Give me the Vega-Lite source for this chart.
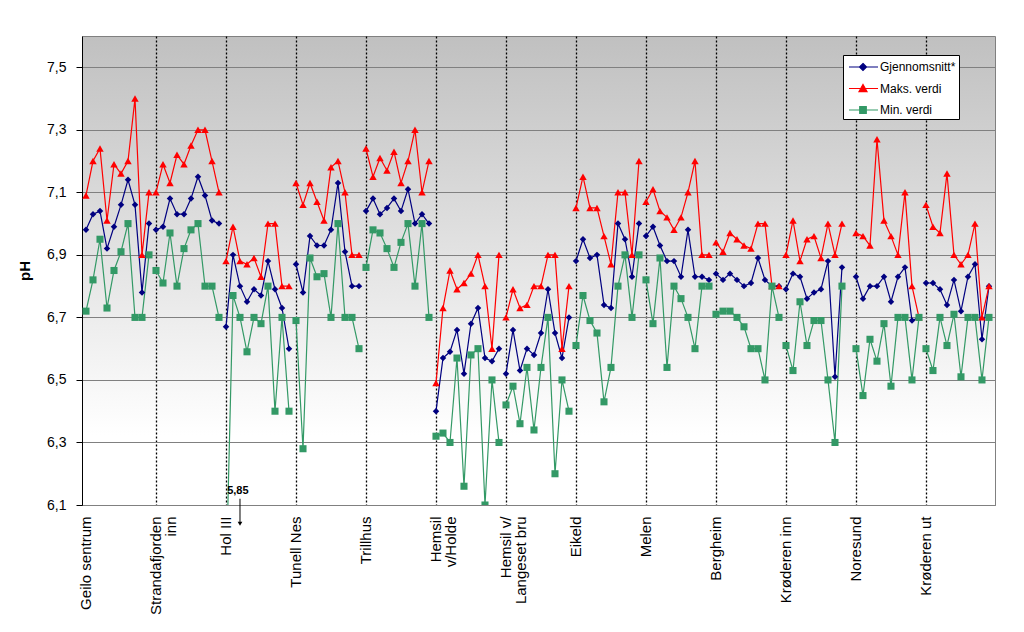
{
 "$schema": "https://vega.github.io/schema/vega-lite/v6.json",
 "width": 913,
 "height": 469,
 "autosize": "none",
 "padding": {"left": 82, "top": 36, "right": 29, "bottom": 127},
 "background": "white",
 "config": {
  "font": "Liberation Sans",
  "view": {
   "fill": {"gradient": "linear", "x1": 0, "y1": 0, "x2": 0, "y2": 1,
    "stops": [{"offset": 0, "color": "#c0c0c0"}, {"offset": 0.85, "color": "#ffffff"}, {"offset": 1, "color": "#ffffff"}]},
   "stroke": "#808080"
  }
 },
 "datasets": {
  "maalinger": [
   {"nr":0,"st":"Geilo sentrum","gj":6.98,"maks":7.09,"min":6.72},
   {"nr":1,"st":"Geilo sentrum","gj":7.03,"maks":7.20,"min":6.82},
   {"nr":2,"st":"Geilo sentrum","gj":7.04,"maks":7.24,"min":6.95},
   {"nr":3,"st":"Geilo sentrum","gj":6.92,"maks":7.01,"min":6.73},
   {"nr":4,"st":"Geilo sentrum","gj":6.99,"maks":7.19,"min":6.85},
   {"nr":5,"st":"Geilo sentrum","gj":7.06,"maks":7.16,"min":6.91},
   {"nr":6,"st":"Geilo sentrum","gj":7.14,"maks":7.20,"min":7.00},
   {"nr":7,"st":"Geilo sentrum","gj":7.06,"maks":7.40,"min":6.70},
   {"nr":8,"st":"Geilo sentrum","gj":6.78,"maks":6.90,"min":6.70},
   {"nr":9,"st":"Geilo sentrum","gj":7.00,"maks":7.10,"min":6.90},
   {"nr":10,"st":"Strandafjorden inn","gj":6.98,"maks":7.10,"min":6.85},
   {"nr":11,"st":"Strandafjorden inn","gj":6.99,"maks":7.19,"min":6.81},
   {"nr":12,"st":"Strandafjorden inn","gj":7.08,"maks":7.13,"min":6.97},
   {"nr":13,"st":"Strandafjorden inn","gj":7.03,"maks":7.22,"min":6.80},
   {"nr":14,"st":"Strandafjorden inn","gj":7.03,"maks":7.19,"min":6.92},
   {"nr":15,"st":"Strandafjorden inn","gj":7.08,"maks":7.25,"min":6.98},
   {"nr":16,"st":"Strandafjorden inn","gj":7.15,"maks":7.30,"min":7.00},
   {"nr":17,"st":"Strandafjorden inn","gj":7.09,"maks":7.30,"min":6.80},
   {"nr":18,"st":"Strandafjorden inn","gj":7.01,"maks":7.20,"min":6.80},
   {"nr":19,"st":"Strandafjorden inn","gj":7.00,"maks":7.10,"min":6.70},
   {"nr":20,"st":"Hol III","gj":6.67,"maks":6.88,"min":5.85},
   {"nr":21,"st":"Hol III","gj":6.90,"maks":6.99,"min":6.77},
   {"nr":22,"st":"Hol III","gj":6.80,"maks":6.88,"min":6.70},
   {"nr":23,"st":"Hol III","gj":6.75,"maks":6.87,"min":6.59},
   {"nr":24,"st":"Hol III","gj":6.79,"maks":6.89,"min":6.70},
   {"nr":25,"st":"Hol III","gj":6.77,"maks":6.83,"min":6.68},
   {"nr":26,"st":"Hol III","gj":6.88,"maks":7.00,"min":6.80},
   {"nr":27,"st":"Hol III","gj":6.79,"maks":7.00,"min":6.40},
   {"nr":28,"st":"Hol III","gj":6.73,"maks":6.80,"min":6.70},
   {"nr":29,"st":"Hol III","gj":6.60,"maks":6.80,"min":6.40},
   {"nr":30,"st":"Tunell Nes","gj":6.87,"maks":7.13,"min":6.69},
   {"nr":31,"st":"Tunell Nes","gj":6.78,"maks":7.06,"min":6.28},
   {"nr":32,"st":"Tunell Nes","gj":6.96,"maks":7.13,"min":6.89},
   {"nr":33,"st":"Tunell Nes","gj":6.93,"maks":7.07,"min":6.83},
   {"nr":34,"st":"Tunell Nes","gj":6.93,"maks":7.01,"min":6.84},
   {"nr":35,"st":"Tunell Nes","gj":6.98,"maks":7.18,"min":6.70},
   {"nr":36,"st":"Tunell Nes","gj":7.13,"maks":7.20,"min":7.00},
   {"nr":37,"st":"Tunell Nes","gj":6.91,"maks":7.10,"min":6.70},
   {"nr":38,"st":"Tunell Nes","gj":6.80,"maks":6.90,"min":6.70},
   {"nr":39,"st":"Tunell Nes","gj":6.80,"maks":6.90,"min":6.60},
   {"nr":40,"st":"Trillhus","gj":7.04,"maks":7.24,"min":6.86},
   {"nr":41,"st":"Trillhus","gj":7.08,"maks":7.15,"min":6.98},
   {"nr":42,"st":"Trillhus","gj":7.03,"maks":7.21,"min":6.97},
   {"nr":43,"st":"Trillhus","gj":7.05,"maks":7.17,"min":6.92},
   {"nr":44,"st":"Trillhus","gj":7.08,"maks":7.23,"min":6.86},
   {"nr":45,"st":"Trillhus","gj":7.04,"maks":7.13,"min":6.94},
   {"nr":46,"st":"Trillhus","gj":7.11,"maks":7.20,"min":7.00},
   {"nr":47,"st":"Trillhus","gj":7.00,"maks":7.30,"min":6.80},
   {"nr":48,"st":"Trillhus","gj":7.03,"maks":7.10,"min":7.00},
   {"nr":49,"st":"Trillhus","gj":7.00,"maks":7.20,"min":6.70},
   {"nr":50,"st":"Hemsil v/Holde","gj":6.40,"maks":6.49,"min":6.32},
   {"nr":51,"st":"Hemsil v/Holde","gj":6.57,"maks":6.73,"min":6.33},
   {"nr":52,"st":"Hemsil v/Holde","gj":6.59,"maks":6.85,"min":6.30},
   {"nr":53,"st":"Hemsil v/Holde","gj":6.66,"maks":6.79,"min":6.57},
   {"nr":54,"st":"Hemsil v/Holde","gj":6.52,"maks":6.81,"min":6.16},
   {"nr":55,"st":"Hemsil v/Holde","gj":6.68,"maks":6.84,"min":6.58},
   {"nr":56,"st":"Hemsil v/Holde","gj":6.73,"maks":6.90,"min":6.60},
   {"nr":57,"st":"Hemsil v/Holde","gj":6.57,"maks":6.80,"min":6.10},
   {"nr":58,"st":"Hemsil v/Holde","gj":6.56,"maks":6.60,"min":6.50},
   {"nr":59,"st":"Hemsil v/Holde","gj":6.60,"maks":6.90,"min":6.30},
   {"nr":60,"st":"Hemsil v/Langeset bru","gj":6.52,"maks":6.70,"min":6.42},
   {"nr":61,"st":"Hemsil v/Langeset bru","gj":6.66,"maks":6.79,"min":6.48},
   {"nr":62,"st":"Hemsil v/Langeset bru","gj":6.53,"maks":6.73,"min":6.36},
   {"nr":63,"st":"Hemsil v/Langeset bru","gj":6.60,"maks":6.74,"min":6.54},
   {"nr":64,"st":"Hemsil v/Langeset bru","gj":6.58,"maks":6.80,"min":6.34},
   {"nr":65,"st":"Hemsil v/Langeset bru","gj":6.65,"maks":6.80,"min":6.54},
   {"nr":66,"st":"Hemsil v/Langeset bru","gj":6.79,"maks":6.90,"min":6.70},
   {"nr":67,"st":"Hemsil v/Langeset bru","gj":6.65,"maks":6.90,"min":6.20},
   {"nr":68,"st":"Hemsil v/Langeset bru","gj":6.57,"maks":6.60,"min":6.50},
   {"nr":69,"st":"Hemsil v/Langeset bru","gj":6.70,"maks":6.80,"min":6.40},
   {"nr":70,"st":"Eikeld","gj":6.88,"maks":7.05,"min":6.61},
   {"nr":71,"st":"Eikeld","gj":6.95,"maks":7.15,"min":6.77},
   {"nr":72,"st":"Eikeld","gj":6.89,"maks":7.05,"min":6.69},
   {"nr":73,"st":"Eikeld","gj":6.90,"maks":7.05,"min":6.65},
   {"nr":74,"st":"Eikeld","gj":6.74,"maks":6.96,"min":6.43},
   {"nr":75,"st":"Eikeld","gj":6.73,"maks":6.87,"min":6.54},
   {"nr":76,"st":"Eikeld","gj":7.00,"maks":7.10,"min":6.80},
   {"nr":77,"st":"Eikeld","gj":6.95,"maks":7.10,"min":6.90},
   {"nr":78,"st":"Eikeld","gj":6.83,"maks":6.90,"min":6.70},
   {"nr":79,"st":"Eikeld","gj":7.00,"maks":7.20,"min":6.90},
   {"nr":80,"st":"Melen","gj":6.96,"maks":7.07,"min":6.82},
   {"nr":81,"st":"Melen","gj":6.99,"maks":7.11,"min":6.68},
   {"nr":82,"st":"Melen","gj":6.93,"maks":7.04,"min":6.89},
   {"nr":83,"st":"Melen","gj":6.88,"maks":7.02,"min":6.54},
   {"nr":84,"st":"Melen","gj":6.88,"maks":6.98,"min":6.80},
   {"nr":85,"st":"Melen","gj":6.83,"maks":7.02,"min":6.76},
   {"nr":86,"st":"Melen","gj":6.98,"maks":7.10,"min":6.70},
   {"nr":87,"st":"Melen","gj":6.83,"maks":7.20,"min":6.60},
   {"nr":88,"st":"Melen","gj":6.83,"maks":6.90,"min":6.80},
   {"nr":89,"st":"Melen","gj":6.82,"maks":6.90,"min":6.80},
   {"nr":90,"st":"Bergheim","gj":6.84,"maks":6.94,"min":6.71},
   {"nr":91,"st":"Bergheim","gj":6.82,"maks":6.91,"min":6.72},
   {"nr":92,"st":"Bergheim","gj":6.84,"maks":6.97,"min":6.72},
   {"nr":93,"st":"Bergheim","gj":6.82,"maks":6.95,"min":6.70},
   {"nr":94,"st":"Bergheim","gj":6.80,"maks":6.93,"min":6.67},
   {"nr":95,"st":"Bergheim","gj":6.81,"maks":6.92,"min":6.60},
   {"nr":96,"st":"Bergheim","gj":6.89,"maks":7.00,"min":6.60},
   {"nr":97,"st":"Bergheim","gj":6.82,"maks":7.00,"min":6.50},
   {"nr":98,"st":"Bergheim","gj":6.80,"maks":6.80,"min":6.80},
   {"nr":99,"st":"Bergheim","gj":6.80,"maks":6.80,"min":6.70},
   {"nr":100,"st":"Krøderen inn","gj":6.79,"maks":6.90,"min":6.61},
   {"nr":101,"st":"Krøderen inn","gj":6.84,"maks":7.01,"min":6.53},
   {"nr":102,"st":"Krøderen inn","gj":6.83,"maks":6.88,"min":6.75},
   {"nr":103,"st":"Krøderen inn","gj":6.76,"maks":6.95,"min":6.61},
   {"nr":104,"st":"Krøderen inn","gj":6.78,"maks":6.96,"min":6.69},
   {"nr":105,"st":"Krøderen inn","gj":6.79,"maks":6.89,"min":6.69},
   {"nr":106,"st":"Krøderen inn","gj":6.88,"maks":7.00,"min":6.50},
   {"nr":107,"st":"Krøderen inn","gj":6.51,"maks":6.90,"min":6.30},
   {"nr":108,"st":"Krøderen inn","gj":6.86,"maks":7.00,"min":6.80},
   {"nr":110,"st":"Noresund","gj":6.83,"maks":6.97,"min":6.60},
   {"nr":111,"st":"Noresund","gj":6.76,"maks":6.96,"min":6.45},
   {"nr":112,"st":"Noresund","gj":6.80,"maks":6.93,"min":6.63},
   {"nr":113,"st":"Noresund","gj":6.80,"maks":7.27,"min":6.56},
   {"nr":114,"st":"Noresund","gj":6.83,"maks":7.01,"min":6.68},
   {"nr":115,"st":"Noresund","gj":6.75,"maks":6.96,"min":6.48},
   {"nr":116,"st":"Noresund","gj":6.83,"maks":6.90,"min":6.70},
   {"nr":117,"st":"Noresund","gj":6.86,"maks":7.10,"min":6.70},
   {"nr":118,"st":"Noresund","gj":6.69,"maks":6.80,"min":6.50},
   {"nr":119,"st":"Noresund","gj":6.70,"maks":6.70,"min":6.70},
   {"nr":120,"st":"Krøderen ut","gj":6.81,"maks":7.06,"min":6.60},
   {"nr":121,"st":"Krøderen ut","gj":6.81,"maks":6.99,"min":6.53},
   {"nr":122,"st":"Krøderen ut","gj":6.79,"maks":6.97,"min":6.70},
   {"nr":123,"st":"Krøderen ut","gj":6.74,"maks":7.16,"min":6.61},
   {"nr":124,"st":"Krøderen ut","gj":6.82,"maks":6.90,"min":6.71},
   {"nr":125,"st":"Krøderen ut","gj":6.72,"maks":6.87,"min":6.51},
   {"nr":126,"st":"Krøderen ut","gj":6.83,"maks":6.90,"min":6.70},
   {"nr":127,"st":"Krøderen ut","gj":6.87,"maks":7.00,"min":6.70},
   {"nr":128,"st":"Krøderen ut","gj":6.63,"maks":6.70,"min":6.50},
   {"nr":129,"st":"Krøderen ut","gj":6.80,"maks":6.80,"min":6.70}
  ],
  "merknad": [
   {"nr": 21.7, "pH": 6.145, "tekst": "5,85", "pil_nr": 22, "pil_fra": 6.12, "pil_til": 6.04}
  ]
 },
 "layer": [
  {
   "data": {"name": "maalinger"},
   "transform": [{"fold": ["gj", "maks", "min"], "as": ["serie", "pH"]}],
   "layer": [
    {
     "mark": {"type": "line", "strokeWidth": 1.2, "clip": true},
     "encoding": {
      "x": {"field": "nr", "type": "quantitative",
       "scale": {"domain": [-0.571, 129.86], "nice": false, "zero": false},
       "axis": {
        "title": null,
        "values": [0, 10, 20, 30, 40, 50, 60, 70, 80, 90, 100, 110, 120],
        "labelExpr": "['Geilo sentrum',['Strandafjorden','inn'],'Hol III','Tunell Nes','Trillhus',['Hemsil','v/Holde'],['Hemsil v/','Langeset bru'],'Eikeld','Melen','Bergheim','Krøderen inn','Noresund','Krøderen ut'][round(datum.value/10)]",
        "labelAngle": -90,
        "labelAlign": "right",
        "labelBaseline": "middle",
        "labelFontSize": 15,
        "labelLineHeight": 15,
        "labelColor": "black",
        "labelPadding": 11,
        "labelOverlap": false,
        "labelFlush": false,
        "labelBound": false,
        "ticks": false,
        "domainColor": "#808080",
        "grid": true,
        "gridDash": [2, 2],
        "gridColor": "black",
        "gridWidth": 1.3,
        "gridOpacity": {"condition": {"test": "datum.value == 0", "value": 0}, "value": 1}
       }},
      "y": {"field": "pH", "type": "quantitative",
       "scale": {"domain": [6.1, 7.6], "nice": false, "zero": false},
       "axis": {
        "title": "pH",
        "titleFontSize": 15,
        "titleFontWeight": "bold",
        "titleColor": "black",
        "titlePadding": 14,
        "values": [6.1, 6.3, 6.5, 6.7, 6.9, 7.1, 7.3, 7.5],
        "labelExpr": "replace(format(datum.value, '.1f'), '.', ',')",
        "labelFontSize": 14,
        "labelColor": "black",
        "labelPadding": 10,
        "tickSize": 6,
        "tickColor": "black",
        "domainColor": "black",
        "grid": true,
        "gridColor": "#808080",
        "gridWidth": 1
       }},
      "color": {"field": "serie", "type": "nominal",
       "scale": {"domain": ["gj", "maks", "min"], "range": ["#000080", "#ff0000", "#339966"]},
       "legend": {
        "title": null,
        "orient": "none",
        "legendX": 761,
        "legendY": 19,
        "fillColor": "white",
        "strokeColor": "black",
        "padding": 3,
        "rowPadding": 6.5,
        "labelFont": "Liberation Sans",
        "labelFontSize": 12,
        "labelColor": "black",
        "labelOffset": 16,
        "symbolSize": 256,
        "symbolStrokeWidth": 1.2,
        "labelExpr": "datum.label == 'gj' ? 'Gjennomsnitt*' : datum.label == 'maks' ? 'Maks. verdi' : 'Min. verdi'",
        "encode": {
         "symbols": {
          "update": {
           "shape": {"signal": "datum.value == 'gj' ? 'M-0.75,0H2.875M1,-0.44L1.44,0L1,0.44L0.56,0Z' : datum.value == 'maks' ? 'M-0.75,0H2.875M1,-0.5L1.5,0.38L0.5,0.38Z' : 'M-0.75,0H2.875M0.59,-0.41H1.41V0.41H0.59Z'"},
           "fill": {"signal": "scale('color', datum.value)"},
           "stroke": {"signal": "scale('color', datum.value)"},
           "strokeWidth": {"value": 1.2},
           "opacity": {"value": 1}
          }
         }
        }
       }},
      "detail": {"field": "st", "type": "nominal"}
     }
    },
    {
     "transform": [{"filter": "datum.serie == 'gj'"}],
     "mark": {"type": "point", "filled": true, "opacity": 1, "clip": true, "shape": "diamond", "size": 42},
     "encoding": {
      "x": {"field": "nr", "type": "quantitative"},
      "y": {"field": "pH", "type": "quantitative"},
      "color": {"field": "serie", "type": "nominal", "legend": null}
     }
    },
    {
     "transform": [{"filter": "datum.serie == 'maks'"}],
     "mark": {"type": "point", "filled": true, "opacity": 1, "clip": true, "shape": "triangle-up", "size": 55},
     "encoding": {
      "x": {"field": "nr", "type": "quantitative"},
      "y": {"field": "pH", "type": "quantitative"},
      "color": {"field": "serie", "type": "nominal", "legend": null}
     }
    },
    {
     "transform": [{"filter": "datum.serie == 'min'"}],
     "mark": {"type": "point", "filled": true, "opacity": 1, "clip": true, "shape": "square", "size": 50},
     "encoding": {
      "x": {"field": "nr", "type": "quantitative"},
      "y": {"field": "pH", "type": "quantitative"},
      "color": {"field": "serie", "type": "nominal", "legend": null}
     }
    }
   ]
  },
  {
   "data": {"name": "merknad"},
   "layer": [
    {
     "mark": {"type": "text", "fontWeight": "bold", "fontSize": 11, "font": "Liberation Sans", "color": "black", "align": "center", "baseline": "middle"},
     "encoding": {
      "x": {"field": "nr", "type": "quantitative"},
      "y": {"field": "pH", "type": "quantitative"},
      "text": {"field": "tekst"}
     }
    },
    {
     "mark": {"type": "rule", "color": "black", "strokeWidth": 1},
     "encoding": {
      "x": {"field": "pil_nr", "type": "quantitative"},
      "y": {"field": "pil_fra", "type": "quantitative"},
      "y2": {"field": "pil_til"}
     }
    },
    {
     "mark": {"type": "point", "shape": "triangle-down", "filled": true, "color": "black", "size": 22, "opacity": 1},
     "encoding": {
      "x": {"field": "pil_nr", "type": "quantitative"},
      "y": {"field": "pil_til", "type": "quantitative"}
     }
    }
   ]
  }
 ]
}
